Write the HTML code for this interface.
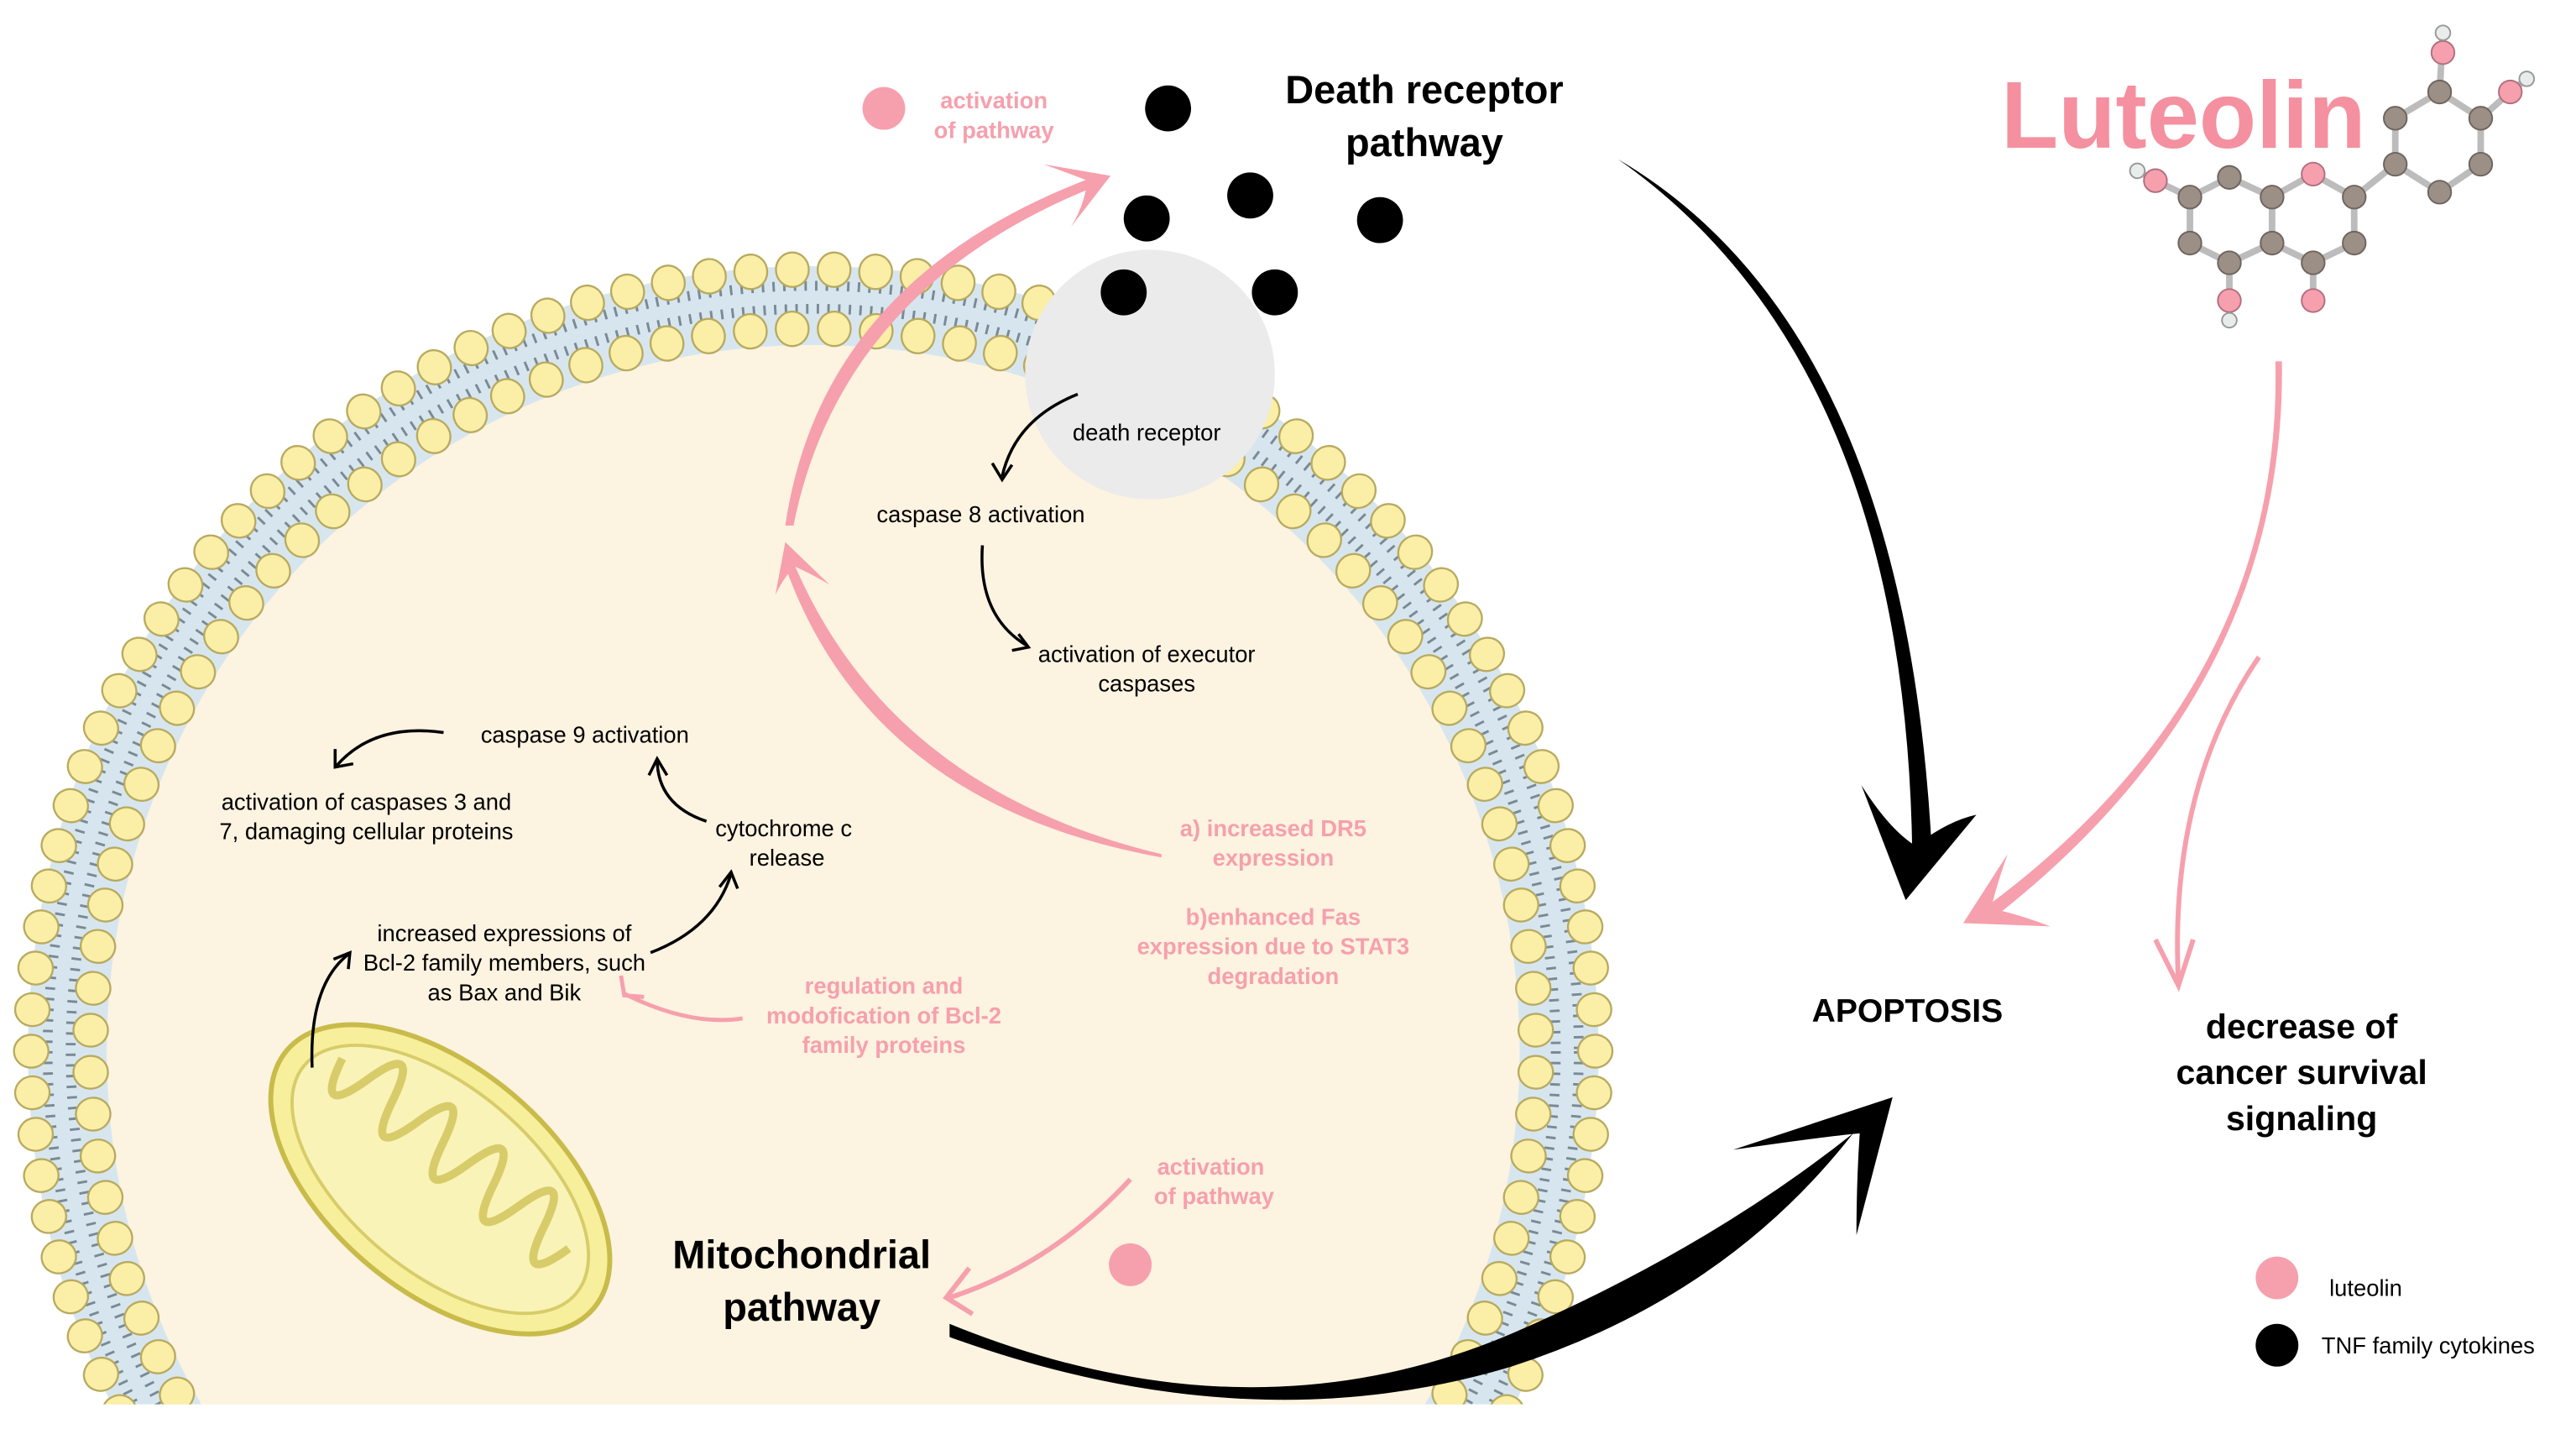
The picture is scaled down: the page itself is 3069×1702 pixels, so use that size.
<!DOCTYPE html>
<html><head><meta charset="utf-8"><style>
html,body{margin:0;padding:0;background:#fff;width:3069px;height:1702px;overflow:hidden;}
svg{display:block;}
text{font-family:"Liberation Sans",sans-serif;}
</style></head><body>
<svg id="s" width="3069" height="1702" viewBox="0 0 1568 870" preserveAspectRatio="none" xmlns="http://www.w3.org/2000/svg">
<defs>
<clipPath id="cb"><rect x="0" y="0" width="1568" height="855"/></clipPath>
</defs>
<g clip-path="url(#cb)">
<circle cx="495" cy="640" r="478" fill="#d7e6ee"/>
<circle cx="495" cy="640" r="452" fill="none" stroke="#7a8a95" stroke-width="6" stroke-dasharray="1.5 5"/>
<circle cx="495" cy="640" r="466" fill="none" stroke="#7a8a95" stroke-width="6" stroke-dasharray="1.5 5"/>
<circle cx="495" cy="640" r="430" fill="#fdf3e1"/>
<g id="beads"></g>
</g>
<circle cx="700" cy="228" r="76" fill="#ebebeb"/>
<g transform="rotate(40 268 718)">
<ellipse cx="268" cy="718" rx="122" ry="68" fill="#f7ef9c" stroke="#c8bb4a" stroke-width="3"/>
<ellipse cx="268" cy="718" rx="108" ry="56" fill="#faf3b8" stroke="#d8cc6a" stroke-width="2"/>
<path d="M175 700 q10 40 20 0 q10 -40 20 0 q10 40 20 0 q10 -40 20 0 q10 40 20 0 q10 -40 20 0 q10 40 20 0 q10 -40 20 0 q10 40 20 0" fill="none" stroke="#d8cc6a" stroke-width="5"/>
</g>
<g fill="#000">
<circle cx="711" cy="66" r="14"/><circle cx="698" cy="133" r="14"/><circle cx="761" cy="119" r="14"/>
<circle cx="840" cy="134" r="14"/><circle cx="684" cy="178" r="14"/><circle cx="776" cy="178" r="14"/>
<circle cx="1386" cy="819" r="13"/>
</g>
<g fill="#f6a0ad">
<circle cx="538" cy="66" r="13"/><circle cx="688" cy="770" r="13"/><circle cx="1386" cy="778" r="13"/>
</g>
<path d="M985 97 Q1160 220 1164 520 L1176 520 Q1160 200 985 97Z" fill="#000"/>
<path d="M1160 548 L1133 478 Q1150 505 1166 515 Q1185 500 1203 496 Z" fill="#000"/>
<path d="M578 806 Q760 880 920 812 Q1040 760 1128 690 Q1050 790 920 832 Q760 880 578 814Z" fill="#000"/>
<path d="M1152 668 L1055 700 Q1110 692 1132 690 Q1130 720 1130 752Z" fill="#000"/>
<path d="M1385 220 Q1390 420 1205 555 L1212 560 Q1392 420 1389 220Z" fill="#f6a0ad"/>
<path d="M1195 562 L1222 520 Q1215 540 1212 553 Q1230 557 1248 564Z" fill="#f6a0ad"/>
<path d="M1375 400 Q1320 480 1326 598" fill="none" stroke="#f6a0ad" stroke-width="3"/>
<path d="M1312 572 L1326 600 L1335 572" fill="none" stroke="#f6a0ad" stroke-width="3"/>
<path d="M707 520 Q540 480 482 340 L478 345 Q530 490 707 522Z" fill="#f6a0ad"/>
<path d="M478 330 L472 362 Q478 350 484 345 Q495 350 505 356Z" fill="#f6a0ad"/>
<path d="M478 320 Q500 170 665 108 L668 113 Q512 175 483 320Z" fill="#f6a0ad"/>
<path d="M676 107 L635 100 Q652 106 662 110 Q660 125 652 138Z" fill="#f6a0ad"/>
<path d="M688 718 Q640 770 578 790" fill="none" stroke="#f6a0ad" stroke-width="3"/>
<path d="M590 772 L576 790 L592 800" fill="none" stroke="#f6a0ad" stroke-width="3"/>
<path d="M452 620 Q420 625 380 605" fill="none" stroke="#f6a0ad" stroke-width="2.5"/>
<path d="M378 594 L380 606 L392 607" fill="none" stroke="#f6a0ad" stroke-width="2.5"/>
<g fill="none" stroke="#000" stroke-width="1.8">
<path d="M656 240 Q618 255 610 290"/><path d="M604 282 L610 292 L616 283"/>
<path d="M598 332 Q595 375 625 393"/><path d="M616 396 L626 394 L620 386"/>
<path d="M270 446 Q228 440 205 466"/><path d="M204 456 L204 467 L215 465"/>
<path d="M430 500 Q400 490 400 462"/><path d="M395 472 L400 462 L406 472"/>
<path d="M396 580 Q435 565 445 532"/><path d="M438 540 L445 531 L449 541"/>
<path d="M190 650 Q188 600 212 581"/><path d="M203 584 L213 580 L212 590"/>
</g>
<g stroke="#bcbcbc" stroke-width="4" fill="none">
<path d="M1333 120 L1357 108 L1383 120 L1383 148 L1357 160 L1333 148 Z"/>
<path d="M1383 120 L1408 106 L1433 120 L1433 148 L1408 160 L1383 148"/>
<path d="M1458 72 L1485 56 L1510 72 L1510 100 L1485 117 L1458 100 Z"/>
<path d="M1433 120 L1458 100"/>
<path d="M1333 120 L1312 110 L1301 104 M1357 160 L1357 195 M1408 160 L1408 183 M1485 56 L1487 20 M1510 72 L1528 56 L1538 48"/>
</g>
<g fill="#9b8f86" stroke="#6e655f" stroke-width="1">
<circle cx="1333" cy="120" r="7"/><circle cx="1357" cy="108" r="7"/><circle cx="1383" cy="120" r="7"/>
<circle cx="1383" cy="148" r="7"/><circle cx="1357" cy="160" r="7"/><circle cx="1333" cy="148" r="7"/>
<circle cx="1433" cy="120" r="7"/><circle cx="1433" cy="148" r="7"/><circle cx="1408" cy="160" r="7"/>
<circle cx="1458" cy="72" r="7"/><circle cx="1485" cy="56" r="7"/><circle cx="1510" cy="72" r="7"/>
<circle cx="1510" cy="100" r="7"/><circle cx="1485" cy="117" r="7"/><circle cx="1458" cy="100" r="7"/>
</g>
<g fill="#f6a0ad" stroke="#b07080" stroke-width="1">
<circle cx="1408" cy="106" r="7"/><circle cx="1312" cy="110" r="7"/><circle cx="1357" cy="183" r="7"/>
<circle cx="1408" cy="183" r="7"/><circle cx="1487" cy="32" r="7"/><circle cx="1528" cy="56" r="7"/>
</g>
<g fill="#e8ecea" stroke="#999" stroke-width="1">
<circle cx="1301" cy="104" r="4.5"/><circle cx="1357" cy="195" r="4.5"/><circle cx="1487" cy="20" r="4.5"/><circle cx="1538" cy="48" r="4.5"/>
</g>
<text x="1218" y="90" font-size="58" font-weight="bold" fill="#f4909f" textLength="222" lengthAdjust="spacingAndGlyphs">Luteolin</text>
<g font-size="14" font-weight="bold" fill="#f6a0ad" text-anchor="middle">
<text x="605" y="66">activation</text><text x="605" y="84">of pathway</text>
<text x="775" y="509">a) increased DR5</text><text x="775" y="527">expression</text>
<text x="775" y="563">b)enhanced Fas</text><text x="775" y="581">expression due to STAT3</text><text x="775" y="599">degradation</text>
<text x="538" y="605">regulation and</text><text x="538" y="623">modofication of Bcl-2</text><text x="538" y="641">family proteins</text>
<text x="737" y="715">activation</text><text x="739" y="733">of pathway</text>
</g>
<g font-size="14" fill="#000" text-anchor="middle">
<text x="698" y="268">death receptor</text>
<text x="597" y="318">caspase 8 activation</text>
<text x="698" y="403">activation of executor</text><text x="698" y="421">caspases</text>
<text x="356" y="452">caspase 9 activation</text>
<text x="223" y="493">activation of caspases 3 and</text><text x="223" y="511">7, damaging cellular proteins</text>
<text x="477" y="509">cytochrome c</text><text x="479" y="527">release</text>
<text x="307" y="573">increased expressions of</text><text x="307" y="591">Bcl-2 family members, such</text><text x="307" y="609">as Bax and Bik</text>
<text x="1440" y="789">luteolin</text>
<text x="1478" y="824">TNF family cytokines</text>
</g>
<g font-weight="bold" fill="#000" text-anchor="middle">
<text x="867" y="63" font-size="24">Death receptor</text><text x="867" y="95" font-size="24">pathway</text>
<text x="488" y="772" font-size="24">Mitochondrial</text><text x="488" y="804" font-size="24">pathway</text>
<text x="1161" y="622" font-size="20">APOPTOSIS</text>
<text x="1401" y="632" font-size="21">decrease of</text><text x="1401" y="660" font-size="21">cancer survival</text><text x="1401" y="688" font-size="21">signaling</text>
</g>
</svg>
<script>
(function(){
var g=document.getElementById('beads'),ns='http://www.w3.org/2000/svg',cx=495,cy=640;
function ring(r,n,off){for(var i=0;i<n;i++){var a=(i+off)/n*2*Math.PI;var x=cx+r*Math.cos(a),y=cy+r*Math.sin(a);
var e=document.createElementNS(ns,'ellipse');e.setAttribute('cx',x.toFixed(1));e.setAttribute('cy',y.toFixed(1));
e.setAttribute('rx','10.5');e.setAttribute('ry','10');e.setAttribute('transform','rotate('+(a*180/Math.PI).toFixed(1)+' '+x.toFixed(1)+' '+y.toFixed(1)+')');
e.setAttribute('fill','#fbeea6');e.setAttribute('stroke','#b8aa60');e.setAttribute('stroke-width','1.2');g.appendChild(e);}}
ring(476,118,0);ring(440,108,0.5);
})();
</script>
</body></html>
